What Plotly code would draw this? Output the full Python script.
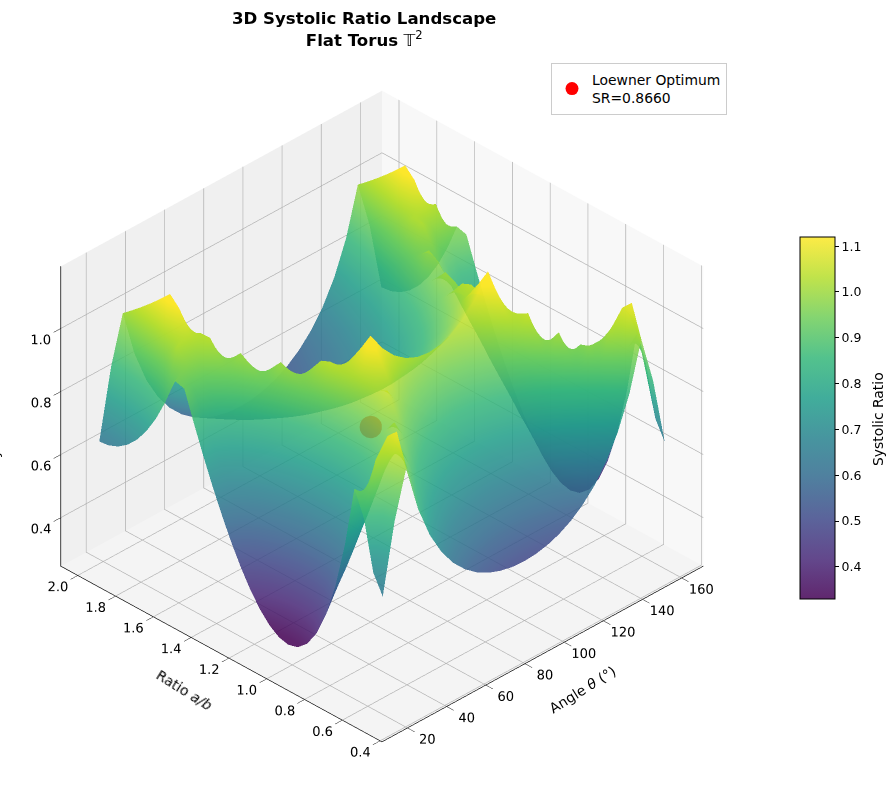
import numpy as np
import plotly.graph_objects as go

FONT = "DejaVu Sans"

# Lattice shape parameters
ratio = [0.50, 0.55, 0.60, 0.65, 0.70, 0.75, 0.80, 0.85, 0.90, 0.95, 1.00,
         1.05, 1.10, 1.15, 1.20, 1.25, 1.30, 1.35, 1.40, 1.45, 1.50,
         1.55, 1.60, 1.65, 1.70, 1.75, 1.80, 1.85, 1.90, 1.95, 2.00]
angle = [18, 24, 30, 36, 42, 48, 54, 60, 66, 72, 78, 84, 90,
         96, 102, 108, 114, 120, 126, 132, 138, 144, 150, 156, 162]

# Systolic ratio along each angle, ordered by the ratio list
sr_18 = [.6335, .6924, .8493, .9267, .7328, .5864, .4786, .4024, .3527, .3253, .3168,
         .3245, .3462, .3801, .4246, .4786, .5408, .6104, .6866, .7687, .8561,
         .9483, .9571, .8738, .8048, .7491, .7054, .6729, .6506, .6377, .6335]
sr_24 = [.8502, .8949, 1.0142, .8885, .7412, .6300, .5480, .4902, .4524, .4316, .4251,
         .4310, .4475, .4732, .5071, .5480, .5953, .6482, .7061, .7685, .8349,
         .9049, .9783, 1.0328, .9804, .9380, .9049, .8801, .8632, .8534, .8502]
sr_30 = [1.0, 1.1, 1.0692, .9128, .7930, .7026, .6359, .5888, .5581, .5412, .5359,
         .5407, .5541, .5750, .6026, .6359, .6744, .7174, .7645, .8152, .8692,
         .9262, .9859, 1.0480, 1.1124, 1.1429, 1.1111, 1.0811, 1.0526, 1.0256, 1.0]
sr_36 = [.8507, .9357, 1.0208, .9705, .8686, .7916, .7349, .6949, .6687, .6543, .6498,
         .6539, .6653, .6831, .7065, .7349, .7676, .8042, .8443, .8874, .9334,
         .9819, 1.0326, 1.0311, 1.0008, .9722, .9452, .9196, .8954, .8725, .8507]
sr_42 = [.7472, .8220, .8967, .9714, .9599, .8923, .8425, .8073, .7843, .7717, .7677,
         .7713, .7813, .7970, .8175, .8425, .8712, .9033, .9385, .9764, .9963,
         .9642, .9341, .9057, .8791, .8540, .8303, .8078, .7866, .7664, .7472]
sr_48 = [.6728, .7401, .8074, .8747, .9419, 1.0026, .9577, .9261, .9054, .8940, .8905,
         .8937, .9027, .9168, .9353, .9577, .9836, .9968, .9612, .9280, .8971,
         .8681, .8410, .8155, .7915, .7689, .7476, .7274, .7082, .6901, .6728]
sr_54 = [.6180, .6798, .7416, .8034, .8652, .9271, .9889, 1.0507, 1.0328, 1.0223, 1.0190,
         1.0220, 1.0303, 1.0432, 1.0300, .9889, .9508, .9156, .8829, .8525, .8240,
         .7975, .7725, .7491, .7271, .7063, .6867, .6681, .6506, .6339, .6180]
sr_60 = [.5774, .6351, .6928, .7506, .8083, .8660, .9238, .9815, 1.0392, 1.0970, 1.1547,
         1.0997, 1.0497, 1.0041, .9623, .9238, .8882, .8553, .8248, .7963, .7698,
         .7450, .7217, .6998, .6792, .6598, .6415, .6242, .6077, .5922, .5774]
sr_66 = [.5473, .6021, .6568, .7115, .7662, .8210, .8757, .9304, .9852, 1.0399, 1.0946,
         1.0425, .9951, .9519, .9122, .8757, .8420, .8108, .7819, .7549, .7298,
         .7062, .6842, .6634, .6439, .6255, .6081, .5917, .5761, .5614, .5473]
sr_72 = [.5257, .5783, .6309, .6834, .7360, .7886, .8412, .8937, .9463, .9989, 1.0515,
         1.0014, .9559, .9143, .8762, .8412, .8088, .7789, .7510, .7251, .7010,
         .6784, .6572, .6372, .6185, .6008, .5841, .5684, .5534, .5392, .5257]
sr_78 = [.5112, .5623, .6134, .6645, .7156, .7668, .8179, .8690, .9201, .9712, 1.0223,
         .9737, .9294, .8890, .8520, .8179, .7864, .7573, .7302, .7051, .6816,
         .6596, .6390, .6196, .6014, .5842, .5680, .5526, .5381, .5243, .5112]
sr_84 = [.5028, .5530, .6033, .6536, .7039, .7541, .8044, .8547, .9050, .9552, 1.0055,
         .9576, .9141, .8744, .8379, .8044, .7735, .7448, .7182, .6935, .6703,
         .6487, .6284, .6094, .5915, .5746, .5586, .5435, .5292, .5157, .5028]
sr_90 = [.5, .55, .6, .65, .7, .75, .8, .85, .9, .95, 1.0,
         .9524, .9091, .8696, .8333, .8, .7692, .7407, .7143, .6897, .6667,
         .6452, .625, .6061, .5882, .5714, .5556, .5405, .5263, .5128, .5]

# Angles theta and 180-theta describe the same lattice
by_angle = [sr_18, sr_24, sr_30, sr_36, sr_42, sr_48, sr_54, sr_60, sr_66, sr_72, sr_78, sr_84, sr_90,
            sr_84, sr_78, sr_72, sr_66, sr_60, sr_54, sr_48, sr_42, sr_36, sr_30, sr_24, sr_18]

optimum_angle = [60]
optimum_ratio = [1.0]
optimum_sr = [0.8660]

# Viridis stops, and the same stops washed with white for the colour bar key
viridis = ["#440154", "#482878", "#3e4989", "#31688e", "#26828e",
           "#1f9e89", "#35b779", "#6ece58", "#b5de2b", "#fde725"]

def washed(hex_colour, alpha=0.85):
    rgb = [int(hex_colour[i:i + 2], 16) for i in (1, 3, 5)]
    return "rgb({},{},{})".format(*[round(alpha * v + (1 - alpha) * 255) for v in rgb])

key_scale = [[i / (len(viridis) - 1), washed(c)] for i, c in enumerate(viridis)]
surface_scale = [[i / (len(viridis) - 1), c] for i, c in enumerate(viridis)]

W, H = 896, 790
C_MIN, C_MAX = 0.33, 1.12

# The grid runs from the far corner to the near one so nearer parts blend on top
surface = go.Surface(
    x=angle[::-1], y=ratio[::-1], z=np.array(by_angle).T[::-1, ::-1],
    colorscale=surface_scale, cmin=C_MIN, cmax=C_MAX, opacity=0.85,
    lighting=dict(ambient=1.0, diffuse=0.0, specular=0.0, roughness=1.0, fresnel=0.0),
    showlegend=False, showscale=False,
)

# Key for the colour scale, carried by a trace with no visible points
key = go.Scatter3d(
    x=[None, None], y=[None, None], z=[None, None], mode="markers", showlegend=False, hoverinfo="skip",
    marker=dict(
        color=[C_MIN, C_MAX], colorscale=key_scale, cmin=C_MIN, cmax=C_MAX, showscale=True,
        colorbar=dict(
            x=800 / W, xanchor="left", xpad=0,
            y=1 - 418 / H, yanchor="middle", ypad=0,
            len=362, lenmode="pixels", thickness=35, thicknessmode="pixels",
            outlinecolor="black", outlinewidth=1,
            ticks="outside", ticklen=4, tickcolor="black",
            tickvals=[0.4, 0.5, 0.6, 0.7, 0.8, 0.9, 1.0, 1.1],
            ticktext=["0.4", "0.5", "0.6", "0.7", "0.8", "0.9", "1.0", "1.1"],
            tickfont=dict(family=FONT, size=12.5, color="black"),
        ),
    ),
)

optimum = go.Scatter3d(
    x=optimum_angle, y=optimum_ratio, z=optimum_sr,
    mode="markers", marker=dict(color="red", size=13, line=dict(width=0)),
    name="Loewner Optimum<br>SR=0.8660",
)

def axis(rng, ticks, back):
    return dict(
        range=rng, tickvals=ticks, autorange=False,
        ticktext=[f"{t:g}" if t > 2 else f"{t:.1f}" for t in ticks],
        tickangle=0,
        showbackground=True, backgroundcolor=back,
        gridcolor="#b0b0b0", gridwidth=1.5, zeroline=False,
        showline=True, linecolor="black", linewidth=1.5,
        ticks="outside", ticklen=10, tickcolor="black",
        tickfont=dict(family=FONT, size=12.5, color="black"),
        title=dict(text=""),
        showspikes=False,
    )

def label(text, x, y, angle_deg, size=14):
    return dict(text=text, x=x / W, y=1 - y / H, xref="paper", yref="paper",
                xanchor="center", yanchor="middle", textangle=angle_deg, showarrow=False,
                font=dict(family=FONT, size=size, color="black"))

fig = go.Figure([surface, key, optimum])
fig.update_layout(
    width=W, height=H, autosize=False, showlegend=True,
    margin=dict(l=0, r=0, t=0, b=0),
    paper_bgcolor="white",
    font=dict(family=FONT, color="black"),
    scene=dict(
        domain=dict(x=[0, 764 / W], y=[0, 1 - 20 / H]),
        aspectmode="manual", aspectratio=dict(x=1.18, y=1.18, z=0.93),
        camera=dict(eye=dict(x=-1.25, y=-1.25, z=1.19), center=dict(x=0, y=0, z=0.035),
                    projection=dict(type="orthographic")),
        xaxis=axis([7, 171], [20, 40, 60, 80, 100, 120, 140, 160], "#f8f8f8"),
        yaxis=axis([0.39, 2.09], [0.4, 0.6, 0.8, 1.0, 1.2, 1.4, 1.6, 1.8, 2.0], "#f0f0f0"),
        zaxis=axis([0.246, 1.197], [0.4, 0.6, 0.8, 1.0], "#f4f4f4"),
    ),
    legend=dict(
        x=551 / W, xanchor="left", y=1 - 63 / H, yanchor="top",
        bgcolor="white", bordercolor="#cccccc", borderwidth=1,
        font=dict(family=FONT, size=13.9, color="black"), itemsizing="trace",
    ),
    annotations=[
        dict(text="<b>3D Systolic Ratio Landscape</b><br><b>Flat Torus</b> 𝕋<sup>2</sup>",
             x=364 / W, y=1 - 7 / H, xref="paper", yref="paper", xanchor="center", yanchor="top",
             showarrow=False, align="center", font=dict(family=FONT, size=16.6, color="black")),
        label("Systolic Ratio", -6, 420, -90),
        label("Systolic Ratio", 878, 419, -90, 13.9),
        label("Ratio <i>a/b</i>", 184, 690, 32),
        label("Angle <i>θ</i> (°)", 582, 690, -32),
    ],
)

fig.write_html("out.html")
